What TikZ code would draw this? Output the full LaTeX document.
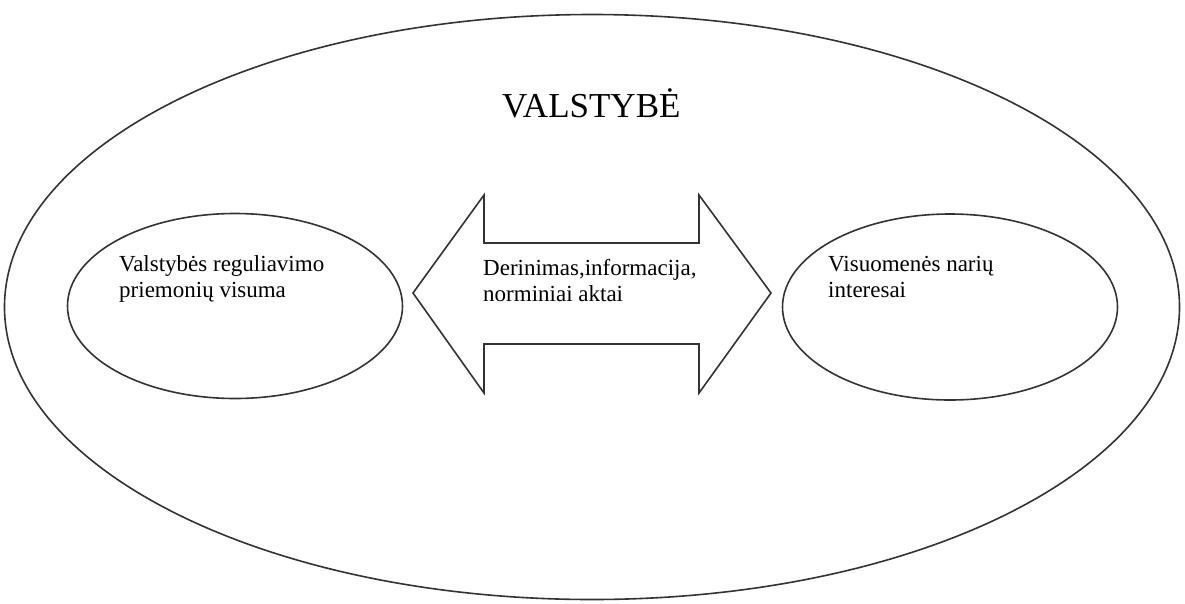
\documentclass[tikz,border=0pt]{standalone}
\usepackage{fontspec}
\setmainfont{Liberation Serif}
\usetikzlibrary{shapes.geometric}

\begin{document}
\begin{tikzpicture}[x=1pt,y=-1pt]

\tikzstyle{oval} = [draw=black!80, ellipse, line width=1.6, inner sep=0]
\tikzstyle{txt} = [anchor=base west, align=left, inner sep=0, font=\fontsize{23}{26}\selectfont]
\tikzstyle{twoway} = [draw=black!80, line width=1.6, line join=miter, fill=white]

\useasboundingbox (0,0) rectangle (1185,603);

\node [oval, minimum width=1175, minimum height=585] (valstybe) at (592,307) {};
\node [anchor=base west, inner sep=0, font=\fontsize{35}{40}\selectfont] (title) at (502,117) {VALSTYBĖ};


\node [oval, minimum width=335, minimum height=185] (priemones) at (235,306) {};
\node [txt] (priemonestxt) at (119,297) {Valstybės reguliavimo\\priemonių visuma};


\node [oval, minimum width=335, minimum height=186] (interesai) at (950,307) {};
\node [txt] (interesaitxt) at (828,297) {Visuomenės narių\\interesai};


\draw [twoway] (413,293) -- (484,195) -- (484,243) -- (699,243) -- (699,195) -- (771,293)
  -- (699,393) -- (699,344) -- (484,344) -- (484,393) -- cycle;
\node [txt] (derinimas) at (483,301) {Derinimas,informacija,\\norminiai aktai};

\end{tikzpicture}
\end{document}
